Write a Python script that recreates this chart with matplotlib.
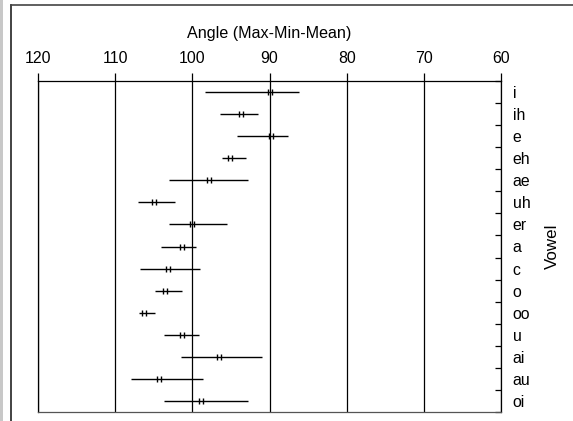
import numpy as np
import matplotlib
matplotlib.use("Agg")
import matplotlib.pyplot as plt
from matplotlib.path import Path
from matplotlib.lines import Line2D
from matplotlib.patches import Rectangle

plt.rcParams['font.family'] = ['Liberation Sans', 'DejaVu Sans']

vowels = ['i', 'ih', 'e', 'eh', 'ae', 'uh', 'er', 'a', 'c', 'o', 'oo', 'u', 'ai', 'au', 'oi']
max_vals = [98.4, 96.4, 94.2, 96.2, 103.0, 107.0, 103.0, 104.1, 106.8, 104.8, 106.9, 103.7, 101.5, 107.9, 103.7]
min_vals = [86.2, 91.5, 87.6, 93.0, 92.8, 102.3, 95.5, 99.5, 99.0, 101.3, 104.8, 99.2, 91.0, 98.6, 92.8]
mean_vals = [90.0, 93.7, 89.8, 95.1, 97.9, 105.0, 100.1, 101.4, 103.1, 103.5, 106.2, 101.3, 96.6, 104.3, 98.9]

fig = plt.figure(figsize=(5.73, 4.21), dpi=100)
ax = fig.add_axes([38 / 573, 1 - 412 / 421, (501 - 38) / 573, (412 - 81) / 421])

# outer frame (cut off at right and bottom) and grey strip on the left
fig.add_artist(Rectangle((0, 0), 2.5 / 573, 1, transform=fig.transFigure,
                         facecolor='#c8c8c8', edgecolor='none'))
fig.add_artist(Line2D([11 / 573, 11 / 573], [0, 1 - 5 / 421], transform=fig.transFigure,
                      color='#222222', lw=1.2))
fig.add_artist(Line2D([11 / 573, 1], [1 - 5 / 421, 1 - 5 / 421], transform=fig.transFigure,
                      color='#444444', lw=1.2))

y = np.arange(len(vowels))
ax.hlines(y, min_vals, max_vals, color='black', lw=1.0, zorder=3)

# mean marker: two short vertical bars
mean_marker = Path([(-0.6, -1), (-0.6, 1), (0.6, -1), (0.6, 1)],
                   [Path.MOVETO, Path.LINETO, Path.MOVETO, Path.LINETO])
ax.plot(mean_vals, y, linestyle='none', marker=mean_marker, markersize=4.4,
        markeredgecolor='black', markeredgewidth=1.0, zorder=4)

ax.set_xlim(120, 60)
ax.set_ylim(14.5, -0.5)

ax.xaxis.tick_top()
ax.xaxis.set_label_position('top')
ax.set_xticks(np.arange(120, 59, -10))
ax.tick_params(axis='x', direction='out', length=5.5, width=0.9, pad=5, labelsize=11.4)
ax.set_xlabel('Angle (Max-Min-Mean)', fontsize=11.6, labelpad=10)
ax.grid(axis='x', color='black', lw=0.9)
ax.set_axisbelow(True)

ax.yaxis.tick_right()
ax.yaxis.set_label_position('right')
ax.set_yticks(y)
ax.set_yticklabels(vowels)
ax.set_yticks(np.arange(-0.5, len(vowels), 1), minor=True)
ax.tick_params(axis='y', which='major', length=0, pad=8.5, labelsize=11.4)
ax.tick_params(axis='y', which='minor', direction='in', length=4, width=0.9)
ax.set_ylabel('Vowel', fontsize=12.2, labelpad=10)

for s in ax.spines.values():
    s.set_linewidth(0.9)
ax.spines['bottom'].set_color('#555555')

fig.savefig('out.png', dpi=100)
